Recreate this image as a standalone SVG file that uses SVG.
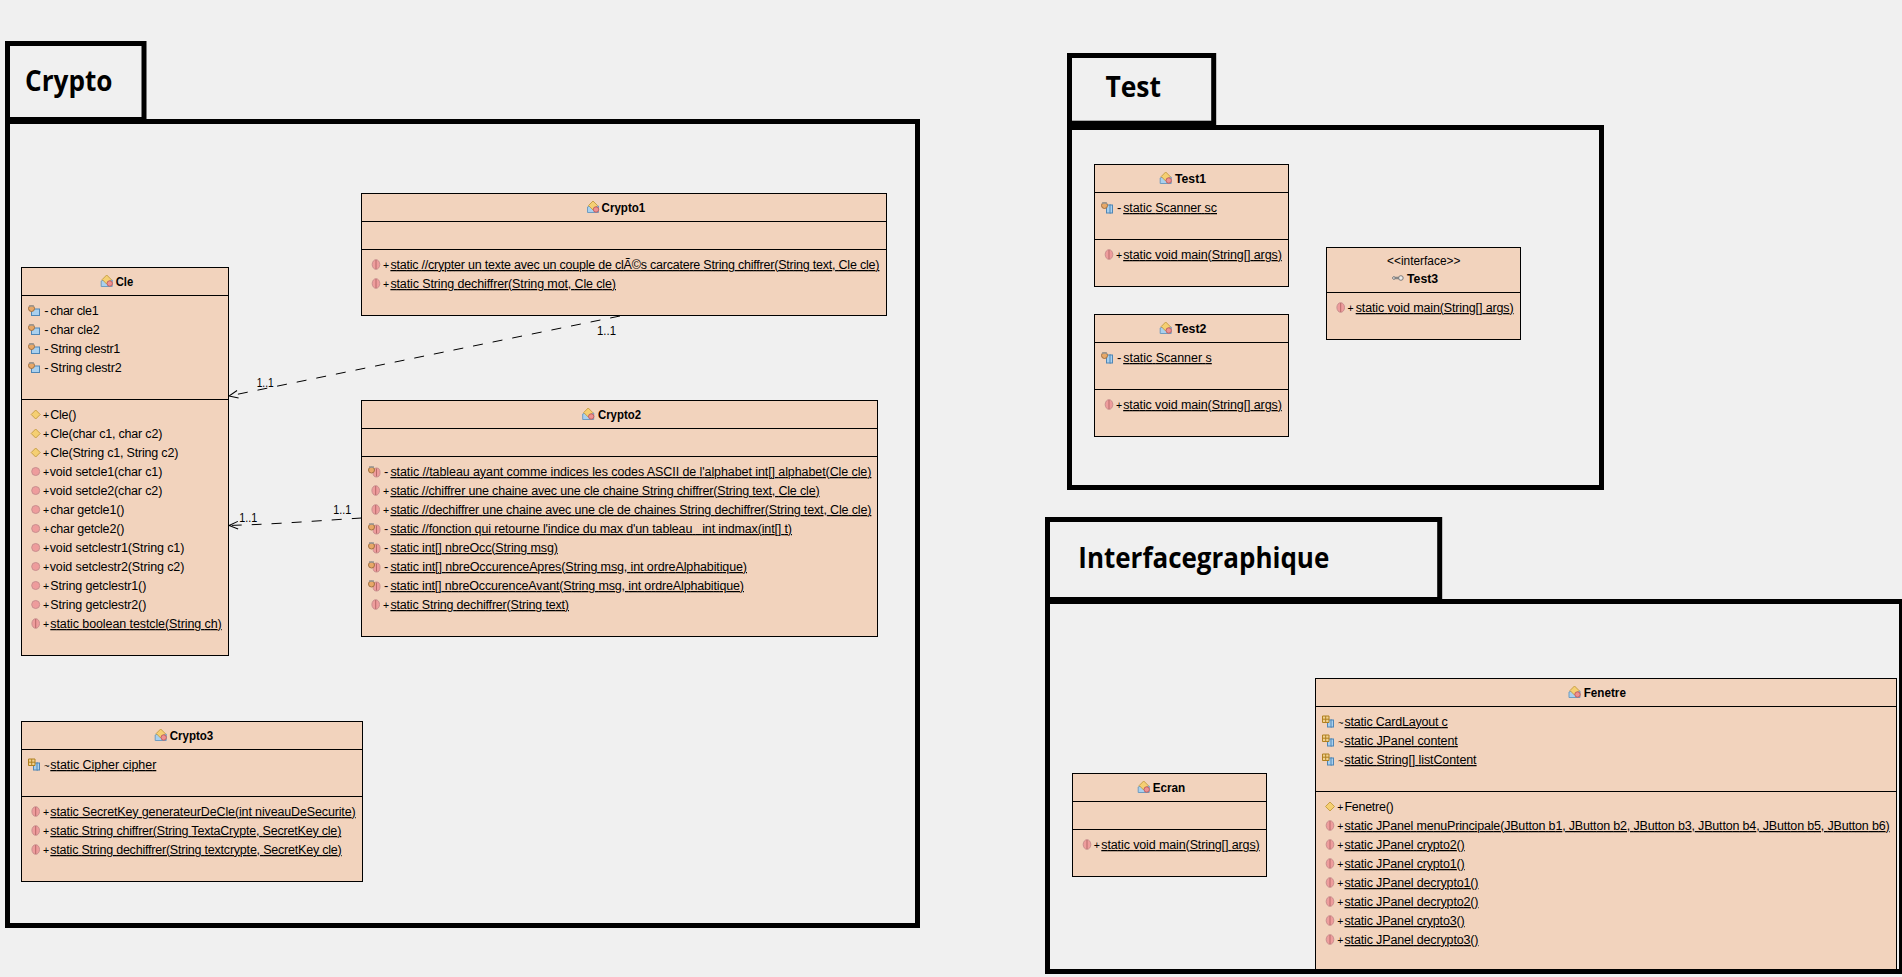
<svg xmlns="http://www.w3.org/2000/svg" width="1902" height="977" viewBox="0 0 1902 977">
<style>
text{font-family:"Liberation Sans",Arial,sans-serif;font-size:12.5px;fill:#000}
.u{text-decoration:underline}
.n{font-weight:bold;font-size:13px}
.s{font-size:10.5px}
.m{font-size:13px}
.t{font-size:9.5px}
.box{fill:#f2d3bd;stroke:#000;stroke-width:1}
.sep{stroke:#000;stroke-width:1;fill:none}
.pkg{fill:none;stroke:#000;stroke-width:5;stroke-linejoin:miter}
.pl{font-family:"Open Sans","Noto Sans",sans-serif;font-weight:bold;font-size:28px}
.dep{fill:none;stroke:#000;stroke-width:1;stroke-dasharray:10 10}
</style>
<defs>
<marker id="open" markerUnits="userSpaceOnUse" markerWidth="14" markerHeight="12" refX="11" refY="6" orient="auto"><path d="M2 2.2L11 6L2 9.8" fill="none" stroke="#000"/></marker>
<g id="mp"><circle r="4" fill="#ee9c9c" stroke="#c98f8f"/></g>
<g id="ms"><ellipse rx="3.800" ry="4.800" fill="#ee9c9c" stroke="#c98f8f"/><path d="M0-4.500V4.500" stroke="#b86a6a"/></g>
<g id="ct"><path d="M0-4.500L4.500 0L0 4.500L-4.500 0Z" fill="#f5cf72" stroke="#c8a048"/></g>
<g id="ap"><rect x="-2.500" y="-1.500" width="8" height="6.500" fill="#a9d0ee" stroke="#4f86b5"/><circle cx="-2.500" cy="-2" r="3" fill="#e8a868" stroke="#a07040"/><path d="M-5-4.500h5" stroke="#999" stroke-width="1.500"/></g>
<g id="as"><rect x="-0.500" y="-2.500" width="4" height="8" fill="#a9d0ee" stroke="#4f86b5"/><rect x="3" y="-2.500" width="2.500" height="8" fill="#a9d0ee" stroke="#4f86b5"/><circle cx="-2.500" cy="-2" r="3" fill="#e8a868" stroke="#a07040"/><path d="M-5-4.500h5" stroke="#999" stroke-width="1.500"/></g>
<g id="mq"><ellipse cx="2.500" cy="1" rx="3.500" ry="4.500" fill="#ee9c9c" stroke="#c98f8f"/><path d="M2.500-3V5" stroke="#b86a6a"/><circle cx="-2.500" cy="-1.500" r="3" fill="#e8a868" stroke="#a07040"/><path d="M-5-4.500h5" stroke="#999" stroke-width="1.500"/></g>
<g id="ag"><rect x="-0.500" y="-1.500" width="4" height="7" fill="#a9d0ee" stroke="#4f86b5"/><rect x="3" y="-1.500" width="2.500" height="7" fill="#a9d0ee" stroke="#4f86b5"/><path d="M-5.500-5.500h6.500v6.500h-6.500zM-2.300-5.500v6.500M-5.500-2.300h6.500" fill="#f0d090" stroke="#b08020"/></g>
<g id="cl"><path d="M-5.500 5.500V0L-3 -1H5.500V5.500Z" fill="#a9d0ee" stroke="#6f9cc0"/><path d="M0-6L4.500-1.500L0 3L-4.500-1.500Z" fill="#f5cf72" stroke="#c8a048"/><circle cx="3" cy="2.500" r="2.700" fill="#ef9090" stroke="#c06060"/></g>
<g id="if"><path d="M-5 0H1" stroke="#888" stroke-width="2.500"/><circle cx="-4" r="1.300" fill="#fff" stroke="#777"/><circle cx="3" r="2.300" fill="#eee" stroke="#777"/></g>
</defs>
<rect width="1902" height="977" fill="#f0f0f0"/>

<g id="connectors">
<path class="dep" d="M620 316L229 396" marker-end="url(#open)"/>
<path class="dep" d="M361.500 518C330 520 290 523 256 524.500L229 525.500" marker-end="url(#open)"/>
<text x="256.700" y="387" textLength="17" lengthAdjust="spacingAndGlyphs">1..1</text>
<text x="597" y="335" textLength="19" lengthAdjust="spacingAndGlyphs">1..1</text>
<text x="239.300" y="522" textLength="18" lengthAdjust="spacingAndGlyphs">1..1</text>
<text x="333.300" y="514" textLength="18" lengthAdjust="spacingAndGlyphs">1..1</text>
</g>

<g id="Cle">
<rect class="box" x="21.500" y="267.500" width="207" height="388"/>
<path class="sep" d="M21.500 295.500H228.500M21.500 399.500H228.500"/>
<use href="#cl" x="106.700" y="281"/><text class="n" x="115.700" y="286" textLength="17.500" lengthAdjust="spacingAndGlyphs">Cle</text>
<use href="#ap" x="34" y="310.500"/><text class="m" x="44.300" y="315">-</text><text x="50.300" y="315" textLength="48.400">char cle1</text>
<use href="#ap" x="34" y="329.500"/><text class="m" x="44.300" y="334">-</text><text x="50.300" y="334" textLength="49.400">char cle2</text>
<use href="#ap" x="34" y="348.500"/><text class="m" x="44.300" y="353">-</text><text x="50.300" y="353" textLength="70">String clestr1</text>
<use href="#ap" x="34" y="367.500"/><text class="m" x="44.300" y="372">-</text><text x="50.300" y="372" textLength="71.400">String clestr2</text>
<use href="#ct" x="35.700" y="414.500"/><text class="s" x="43" y="419">+</text><text x="50.300" y="419" textLength="26">Cle()</text>
<use href="#ct" x="35.700" y="433.500"/><text class="s" x="43" y="438">+</text><text x="50.300" y="438" textLength="112">Cle(char c1, char c2)</text>
<use href="#ct" x="35.700" y="452.500"/><text class="s" x="43" y="457">+</text><text x="50.300" y="457" textLength="128">Cle(String c1, String c2)</text>
<use href="#mp" x="35.700" y="471.500"/><text class="s" x="43" y="476">+</text><text x="49.700" y="476" textLength="112.600">void setcle1(char c1)</text>
<use href="#mp" x="35.700" y="490.500"/><text class="s" x="43" y="495">+</text><text x="49.700" y="495" textLength="112.600">void setcle2(char c2)</text>
<use href="#mp" x="35.700" y="509.500"/><text class="s" x="43" y="514">+</text><text x="50.300" y="514" textLength="74">char getcle1()</text>
<use href="#mp" x="35.700" y="528.500"/><text class="s" x="43" y="533">+</text><text x="50.300" y="533" textLength="74">char getcle2()</text>
<use href="#mp" x="35.700" y="547.500"/><text class="s" x="43" y="552">+</text><text x="49.700" y="552" textLength="134.600">void setclestr1(String c1)</text>
<use href="#mp" x="35.700" y="566.500"/><text class="s" x="43" y="571">+</text><text x="49.700" y="571" textLength="134.600">void setclestr2(String c2)</text>
<use href="#mp" x="35.700" y="585.500"/><text class="s" x="43" y="590">+</text><text x="50.300" y="590" textLength="96">String getclestr1()</text>
<use href="#mp" x="35.700" y="604.500"/><text class="s" x="43" y="609">+</text><text x="50.300" y="609" textLength="96">String getclestr2()</text>
<use href="#ms" x="35.700" y="623.500"/><text class="s" x="43" y="628">+</text><text class="u" x="50.300" y="628" textLength="171.400">static boolean testcle(String ch)</text>
</g>

<g id="Crypto1">
<rect class="box" x="361.500" y="193.500" width="525" height="122"/>
<path class="sep" d="M361.500 221.500H886.500M361.500 249.500H886.500"/>
<use href="#cl" x="593" y="207"/><text class="n" x="601.600" y="212" textLength="43.600" lengthAdjust="spacingAndGlyphs">Crypto1</text>
<use href="#ms" x="376" y="264.500"/><text class="s" x="383" y="269">+</text><text class="u" x="390.400" y="269" textLength="489">static //crypter un texte avec un couple de clÃ©s carcatere String chiffrer(String text, Cle cle)</text>
<use href="#ms" x="376" y="283.500"/><text class="s" x="383" y="288">+</text><text class="u" x="390.400" y="288" textLength="225.600">static String dechiffrer(String mot, Cle cle)</text>
</g>

<g id="Crypto2">
<rect class="box" x="361.500" y="400.500" width="516" height="236"/>
<path class="sep" d="M361.500 428.500H877.500M361.500 456.500H877.500"/>
<use href="#cl" x="588.200" y="414"/><text class="n" x="597.900" y="419" textLength="43.100" lengthAdjust="spacingAndGlyphs">Crypto2</text>
<use href="#mq" x="374" y="471.500"/><text class="m" x="384" y="476">-</text><text class="u" x="390.400" y="476" textLength="481">static //tableau ayant comme indices les codes ASCII de l'alphabet int[] alphabet(Cle cle)</text>
<use href="#ms" x="375.700" y="490.500"/><text class="s" x="383" y="495">+</text><text class="u" x="390.400" y="495" textLength="429.200">static //chiffrer une chaine avec une cle chaine String chiffrer(String text, Cle cle)</text>
<use href="#ms" x="375.700" y="509.500"/><text class="s" x="383" y="514">+</text><text class="u" x="390.400" y="514" textLength="481">static //dechiffrer une chaine avec une cle de chaines String dechiffrer(String text, Cle cle)</text>
<use href="#mq" x="374" y="528.500"/><text class="m" x="384" y="533">-</text><text class="u" x="390.400" y="533" textLength="401.600" xml:space="preserve">static //fonction qui retourne l'indice du max d'un tableau   int indmax(int[] t)</text>
<use href="#mq" x="374" y="547.500"/><text class="m" x="384" y="552">-</text><text class="u" x="390.400" y="552" textLength="167.500">static int[] nbreOcc(String msg)</text>
<use href="#mq" x="374" y="566.500"/><text class="m" x="384" y="571">-</text><text class="u" x="390.400" y="571" textLength="356.600">static int[] nbreOccurenceApres(String msg, int ordreAlphabitique)</text>
<use href="#mq" x="374" y="585.500"/><text class="m" x="384" y="590">-</text><text class="u" x="390.400" y="590" textLength="353.600">static int[] nbreOccurenceAvant(String msg, int ordreAlphabitique)</text>
<use href="#ms" x="375.700" y="604.500"/><text class="s" x="383" y="609">+</text><text class="u" x="390.400" y="609" textLength="178.600">static String dechiffrer(String text)</text>
</g>

<g id="Crypto3">
<rect class="box" x="21.500" y="721.500" width="341" height="160"/>
<path class="sep" d="M21.500 749.500H362.500M21.500 796.500H362.500"/>
<use href="#cl" x="160.700" y="735"/><text class="n" x="169.700" y="740" textLength="43.600" lengthAdjust="spacingAndGlyphs">Crypto3</text>
<use href="#ag" x="34" y="764.500"/><text class="t" x="44" y="769">~</text><text class="u" x="50.300" y="769" textLength="106">static Cipher cipher</text>
<use href="#ms" x="35.700" y="811.500"/><text class="s" x="43" y="816">+</text><text class="u" x="50.300" y="816" textLength="305.400">static SecretKey generateurDeCle(int niveauDeSecurite)</text>
<use href="#ms" x="35.700" y="830.500"/><text class="s" x="43" y="835">+</text><text class="u" x="50.300" y="835" textLength="291">static String chiffrer(String TextaCrypte, SecretKey cle)</text>
<use href="#ms" x="35.700" y="849.500"/><text class="s" x="43" y="854">+</text><text class="u" x="50.300" y="854" textLength="291.400">static String dechiffrer(String textcrypte, SecretKey cle)</text>
</g>

<g id="Test1">
<rect class="box" x="1094.500" y="164.500" width="194" height="122"/>
<path class="sep" d="M1094.500 192.500H1288.500M1094.500 239.500H1288.500"/>
<use href="#cl" x="1165.700" y="178"/><text class="n" x="1175" y="183" textLength="31" lengthAdjust="spacingAndGlyphs">Test1</text>
<use href="#as" x="1107" y="207.500"/><text class="m" x="1117" y="212">-</text><text class="u" x="1123.200" y="212" textLength="93.800">static Scanner sc</text>
<use href="#ms" x="1109" y="254.500"/><text class="s" x="1116" y="259">+</text><text class="u" x="1123.200" y="259" textLength="158.600">static void main(String[] args)</text>
</g>

<g id="Test2">
<rect class="box" x="1094.500" y="314.500" width="194" height="122"/>
<path class="sep" d="M1094.500 342.500H1288.500M1094.500 389.500H1288.500"/>
<use href="#cl" x="1165.700" y="328"/><text class="n" x="1175" y="333" textLength="31.400" lengthAdjust="spacingAndGlyphs">Test2</text>
<use href="#as" x="1107" y="357.500"/><text class="m" x="1117" y="362">-</text><text class="u" x="1123.200" y="362" textLength="88.600">static Scanner s</text>
<use href="#ms" x="1109" y="404.500"/><text class="s" x="1116" y="409">+</text><text class="u" x="1123.200" y="409" textLength="158.600">static void main(String[] args)</text>
</g>

<g id="Test3">
<rect class="box" x="1326.500" y="247.500" width="194" height="92"/>
<path class="sep" d="M1326.500 292.500H1520.500"/>
<text x="1387" y="265" textLength="73.400" lengthAdjust="spacingAndGlyphs">&lt;&lt;interface&gt;&gt;</text>
<use href="#if" x="1397.900" y="278"/><text class="n" x="1407" y="283" textLength="31.200" lengthAdjust="spacingAndGlyphs">Test3</text>
<use href="#ms" x="1340.700" y="307.500"/><text class="s" x="1347.500" y="312">+</text><text class="u" x="1355.700" y="312" textLength="157.900">static void main(String[] args)</text>
</g>

<g id="Ecran">
<rect class="box" x="1072.500" y="773.500" width="194" height="103"/>
<path class="sep" d="M1072.500 801.500H1266.500M1072.500 829.500H1266.500"/>
<use href="#cl" x="1143.700" y="787"/><text class="n" x="1152.700" y="792" textLength="32.600" lengthAdjust="spacingAndGlyphs">Ecran</text>
<use href="#ms" x="1087" y="844.500"/><text class="s" x="1093.700" y="849">+</text><text class="u" x="1101.300" y="849" textLength="158.400">static void main(String[] args)</text>
</g>

<g id="Fenetre">
<rect class="box" x="1315.500" y="678.500" width="581" height="293"/>
<path class="sep" d="M1315.500 706.500H1896.500M1315.500 791.500H1896.500"/>
<use href="#cl" x="1574.500" y="692"/><text class="n" x="1583.700" y="697" textLength="42.200" lengthAdjust="spacingAndGlyphs">Fenetre</text>
<use href="#ag" x="1328" y="721.500"/><text class="t" x="1338" y="726">~</text><text class="u" x="1344.500" y="726" textLength="103.300">static CardLayout c</text>
<use href="#ag" x="1328" y="740.500"/><text class="t" x="1338" y="745">~</text><text class="u" x="1344.500" y="745" textLength="113.300">static JPanel content</text>
<use href="#ag" x="1328" y="759.500"/><text class="t" x="1338" y="764">~</text><text class="u" x="1344.500" y="764" textLength="132.100">static String[] listContent</text>
<use href="#ct" x="1330" y="806.500"/><text class="s" x="1337.200" y="811">+</text><text x="1344.500" y="811" textLength="49.200">Fenetre()</text>
<use href="#ms" x="1330" y="825.500"/><text class="s" x="1337.200" y="830">+</text><text class="u" x="1344.500" y="830" textLength="545.100">static JPanel menuPrincipale(JButton b1, JButton b2, JButton b3, JButton b4, JButton b5, JButton b6)</text>
<use href="#ms" x="1330" y="844.500"/><text class="s" x="1337.200" y="849">+</text><text class="u" x="1344.500" y="849" textLength="120.200">static JPanel crypto2()</text>
<use href="#ms" x="1330" y="863.500"/><text class="s" x="1337.200" y="868">+</text><text class="u" x="1344.500" y="868" textLength="120.200">static JPanel crypto1()</text>
<use href="#ms" x="1330" y="882.500"/><text class="s" x="1337.200" y="887">+</text><text class="u" x="1344.500" y="887" textLength="134">static JPanel decrypto1()</text>
<use href="#ms" x="1330" y="901.500"/><text class="s" x="1337.200" y="906">+</text><text class="u" x="1344.500" y="906" textLength="134">static JPanel decrypto2()</text>
<use href="#ms" x="1330" y="920.500"/><text class="s" x="1337.200" y="925">+</text><text class="u" x="1344.500" y="925" textLength="120.200">static JPanel crypto3()</text>
<use href="#ms" x="1330" y="939.500"/><text class="s" x="1337.200" y="944">+</text><text class="u" x="1344.500" y="944" textLength="134">static JPanel decrypto3()</text>
</g>

<g id="pkg-Crypto">
<rect class="pkg" x="7.500" y="43.500" width="136.500" height="76"/>
<rect class="pkg" x="7.500" y="121.500" width="910" height="804"/>
<text class="pl" x="25" y="91" textLength="87.500" lengthAdjust="spacingAndGlyphs">Crypto</text>
</g>
<g id="pkg-Test">
<rect class="pkg" x="1069.500" y="55.500" width="144.200" height="67.700"/>
<rect class="pkg" x="1069.500" y="127.500" width="532" height="360"/>
<text class="pl" x="1105.400" y="97" textLength="55.600" lengthAdjust="spacingAndGlyphs">Test</text>
</g>
<g id="pkg-Interfacegraphique">
<rect class="pkg" x="1047.500" y="519.500" width="392.200" height="80"/>
<rect class="pkg" x="1047.500" y="601.500" width="854" height="370"/>
<text class="pl" x="1078.300" y="568" textLength="251" lengthAdjust="spacingAndGlyphs">Interfacegraphique</text>
</g>
</svg>
